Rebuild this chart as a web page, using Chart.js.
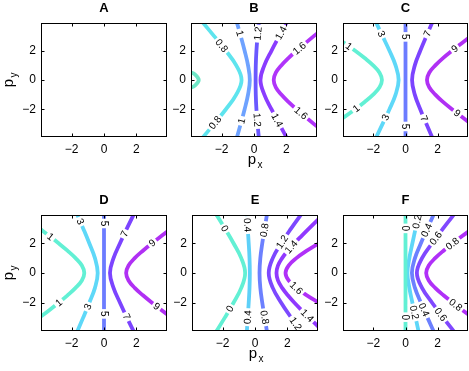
<!DOCTYPE html>
<html>
<head>
<meta charset="utf-8">
<script src="https://cdn.jsdelivr.net/npm/chart.js@4.4.1/dist/chart.umd.min.js"></script>
<style>
body { margin: 0; background: #fff; width: 469px; height: 371px; position: relative; overflow: hidden; }
canvas { position: absolute; }
</style>
</head>
<body>
<canvas id="A"></canvas>
<canvas id="B"></canvas>
<canvas id="C"></canvas>
<canvas id="D"></canvas>
<canvas id="E"></canvas>
<canvas id="F"></canvas>
<script>
const tickVals = [-2, 0, 2];
const axisMin = -3.9;
const axisMax = 3.9;

// panel B
const levelsB = ["0.6", "0.8", "1", "1.2", "1.4", "1.6"];
const linesB = [
    [[-3.95,0.55],[-3.68,0.4],[-3.42,0],[-3.68,-0.4],[-3.95,-0.55]],
    [[-3.37,4.2],[-2.47,3],[-1.74,2],[-1.1,1],[-0.77,0],[-1.1,-1],[-1.74,-2],[-2.47,-3],[-3.37,-4.2]],
    [[-1.13,4.2],[-0.82,3],[-0.58,2],[-0.37,1],[-0.26,0],[-0.37,-1],[-0.58,-2],[-0.82,-3],[-1.13,-4.2]],
    [[0.32,4.2],[0.22,3],[0.15,2],[0.11,1],[0.1,0],[0.11,-1],[0.15,-2],[0.22,-3],[0.32,-4.2]],
    [[2.15,4.2],[1.56,3],[1.08,2],[0.64,1],[0.4,0],[0.64,-1],[1.08,-2],[1.56,-3],[2.15,-4.2]],
    [[4.1,3.35],[3.7,3],[2.63,2],[2.13,1.5],[1.69,1],[1.35,0.5],[1.22,0],[1.35,-0.5],[1.69,-1],[2.13,-1.5],[2.63,-2],[3.7,-3],[4.1,-3.35]]
];
const labelsB = [["0.8",-2.1,2.27],["0.8",-2.42,-2.9],["1",-0.9,3.18],["1",-0.88,-2.77],["1.2",0.19,3.18],["1.2",0.19,-2.73],
    ["1.4",1.7,3.2],["1.4",1.35,-2.8],["1.6",2.9,2.05],["1.6",2.8,-2.4]];

// panel C
const levelsC = ["1", "3", "5", "7", "9"];
const linesC = [
    [[-4.16,2.8],[-3.14,2],[-2.55,1.5],[-2.02,1],[-1.62,0.5],[-1.47,0],[-1.62,-0.5],[-2.02,-1],[-2.55,-1.5],[-3.14,-2],[-4.16,-2.8]],
    [[-1.95,4.2],[-1.43,3],[-1.0,2],[-0.62,1],[-0.43,0],[-0.62,-1],[-1.0,-2],[-1.43,-3],[-1.95,-4.2]],
    [[0,4.2],[0,0],[0,-4.2]],
    [[1.78,4.2],[1.3,3],[0.92,2],[0.58,1],[0.41,0],[0.58,-1],[0.92,-2],[1.3,-3],[1.78,-4.2]],
    [[4.09,3],[3.49,2.5],[2.9,2],[2.34,1.5],[1.86,1],[1.48,0.5],[1.34,0],[1.48,-0.5],[1.86,-1],[2.34,-1.5],[2.9,-2],[3.49,-2.5],[4.09,-3]]
];
const labelsC = [["1",-3.55,2.27],["1",-3.14,-1.86],["3",-1.47,3.18],["3",-1.26,-2.55],["5",0,2.95],["5",0,-3.18],
    ["7",1.34,3.18],["7",1.24,-2.61],["9",3.11,2.09],["9",3.22,-2.27]];

// panel D
const levelsD = ["1", "3", "5", "7", "9"];
const linesD = [
    [[-4.11,3.1],[-3.39,2.5],[-2.81,2],[-2.26,1.5],[-1.76,1],[-1.37,0.5],[-1.22,0],[-1.37,-0.5],[-1.76,-1],[-2.26,-1.5],[-2.81,-2],[-3.39,-2.5],[-4.11,-3.1]],
    [[-1.76,4.2],[-1.29,3],[-0.91,2],[-0.56,1],[-0.39,0],[-0.56,-1],[-0.91,-2],[-1.29,-3],[-1.76,-4.2]],
    [[0,4.2],[0,0],[0,-4.2]],
    [[1.96,4.2],[1.42,3],[0.99,2],[0.59,1],[0.37,0],[0.59,-1],[0.99,-2],[1.42,-3],[1.96,-4.2]],
    [[4.18,3],[3.57,2.5],[2.97,2],[2.41,1.5],[1.9,1],[1.52,0.5],[1.37,0],[1.52,-0.5],[1.9,-1],[2.41,-1.5],[2.97,-2],[3.57,-2.5],[4.18,-3]]
];
const labelsD = [["1",-3.35,2.39],["1",-2.77,-2.03],["3",-1.49,3.45],["3",-1.04,-2.25],["5",0,3.33],["5",0,-2.75],
    ["7",1.3,2.61],["7",1.41,-2.93],["9",3.02,1.98],["9",3.23,-2.3]];

// panel E
const levelsE = ["0", "0.4", "0.8", "1.2", "1.4", "1.6"];
const linesE = [
    [[-2.55,4.2],[-1.87,3],[-1.33,2],[-0.85,1],[-0.61,0],[-0.85,-1],[-1.33,-2],[-1.87,-3],[-2.55,-4.2]],
    [[-0.52,4.2],[-0.45,3],[-0.39,2],[-0.34,1],[-0.32,0],[-0.34,-1],[-0.39,-2],[-0.45,-3],[-0.52,-4.2]],
    [[0.78,4.2],[0.6,3],[0.45,2],[0.33,1],[0.28,0],[0.33,-1],[0.45,-2],[0.6,-3],[0.78,-4.2]],
    [[3.03,4.2],[2.24,3],[1.62,2],[1.1,1],[0.85,0],[1.1,-1],[1.62,-2],[2.24,-3],[3.03,-4.2]],
    [[4.01,3.7],[3.35,3],[2.89,2.5],[2.44,2],[2.03,1.5],[1.68,1],[1.42,0.5],[1.33,0],[1.42,-0.5],[1.68,-1],[2.03,-1.5],[2.44,-2],[2.89,-2.5],[3.35,-3],[4.01,-3.7]],
    [[4.25,2.2],[3.95,2],[3.21,1.5],[2.56,1],[2.08,0.5],[1.89,0],[2.08,-0.5],[2.56,-1],[3.21,-1.5],[3.95,-2],[4.25,-2.2]]
];
const labelsE = [["0",-1.86,3.0],["0",-1.55,-2.41],["0.4",-0.5,3.22],["0.4",-0.48,-2.97],["0.8",0.64,2.88],["0.8",0.64,-2.97],
    ["1.2",1.68,2.09],["1.2",2.51,-3.42],["1.4",2.37,1.64],["1.4",3.14,-2.97],["1.6",2.51,-1.06]];

// panel F
const levelsF = ["0", "0.2", "0.4", "0.6", "0.8"];
const linesF = [
    [[0,4.2],[0,0],[0,-4.2]],
    [[0.87,4.2],[0.63,3],[0.43,2],[0.24,1],[0.12,0],[0.24,-1],[0.43,-2],[0.63,-3],[0.87,-4.2]],
    [[1.87,4.2],[1.37,3],[0.96,2],[0.59,1],[0.4,0],[0.59,-1],[0.96,-2],[1.37,-3],[1.87,-4.2]],
    [[3.22,4.2],[2.35,3],[1.66,2],[1.03,1],[0.71,0],[1.03,-1],[1.66,-2],[2.35,-3],[3.22,-4.2]],
    [[4.2,3],[3.56,2.5],[2.96,2],[2.37,1.5],[1.85,1],[1.45,0.5],[1.29,0],[1.45,-0.5],[1.85,-1],[2.37,-1.5],[2.96,-2],[3.56,-2.5],[4.2,-3]]
];
const labelsF = [["0",0,3.0],["0",0,-2.97],["0.2",0.71,3.45],["0.2",0.6,-2.64],["0.4",1.33,2.88],["0.4",1.13,-2.48],
    ["0.6",2.06,2.2],["0.6",1.96,-2.97],["0.8",3.0,1.87],["0.8",3.1,-2.18]];

const colorsB = ["#6ee6c6", "#5ee4ee", "#6ea2ff", "#6a58ff", "#8a3cff", "#b034fa"];
const colorsC = ["#62f0d4", "#5ed8f8", "#6c7cff", "#7c44ff", "#b030f4"];
const colorsE = ["#62f0d4", "#5ed0f8", "#6c80ff", "#7c48ff", "#9038ff", "#b030f8"];
const colorsF = ["#62f0d4", "#5ed6f8", "#6c80ff", "#8048ff", "#b030f8"];

const font = "'Liberation Sans', Arial, Helvetica, sans-serif";

function fmt(v) {
    return v < 0 ? "\u2212" + Math.abs(v) : String(v);
}

// box with inward ticks, title and axis names
const framePlugin = {
    id: "frame",
    afterDraw(chart) {
        const ctx = chart.ctx;
        const a = chart.chartArea;
        const xs = chart.scales.x, ys = chart.scales.y;
        const o = chart.options.plugins.frame;
        ctx.save();
        ctx.strokeStyle = "#000";
        ctx.lineWidth = 1;
        const L = Math.round(a.left) + 0.5, R = Math.round(a.right) - 0.5;
        const T = Math.round(a.top) + 0.5, B = Math.round(a.bottom) - 0.5;
        ctx.strokeRect(L, T, R - L, B - T);
        ctx.beginPath();
        tickVals.forEach(v => {
            const px = Math.round(xs.getPixelForValue(v)) + 0.5;
            ctx.moveTo(px, B); ctx.lineTo(px, B - 3);
            ctx.moveTo(px, T); ctx.lineTo(px, T + 3);
            const py = Math.round(ys.getPixelForValue(v)) + 0.5;
            ctx.moveTo(L, py); ctx.lineTo(L + 3, py);
            ctx.moveTo(R, py); ctx.lineTo(R - 3, py);
        });
        ctx.stroke();

        ctx.fillStyle = "#000";
        ctx.textAlign = "center";
        ctx.textBaseline = "middle";
        ctx.font = "bold 13px " + font;
        ctx.fillText(o.title, (a.left + a.right) / 2, a.top - 15);

        if (o.xName) {
            const cx = (a.left + a.right) / 2;
            ctx.textBaseline = "alphabetic";
            ctx.font = "15px " + font;
            ctx.fillText("p", cx - 2, a.bottom + 27);
            ctx.font = "10px " + font;
            ctx.fillText("x", cx + 6, a.bottom + 31);
        }
        if (o.yName) {
            const cy = (a.top + a.bottom) / 2;
            ctx.translate(12, cy);
            ctx.rotate(-Math.PI / 2);
            ctx.textBaseline = "alphabetic";
            ctx.font = "15px " + font;
            ctx.fillText("p", -3, 0);
            ctx.font = "10px " + font;
            ctx.fillText("y", 5, 4);
        }
        ctx.restore();
    }
};

// inline contour labels placed on their line
const clabelPlugin = {
    id: "clabel",
    afterDatasetsDraw(chart) {
        const labels = chart.options.plugins.clabel.items || [];
        const ctx = chart.ctx;
        const a = chart.chartArea;
        ctx.save();
        ctx.beginPath();
        ctx.rect(a.left, a.top, a.right - a.left, a.bottom - a.top);
        ctx.clip();
        ctx.font = "10px " + font;
        ctx.textAlign = "center";
        ctx.textBaseline = "middle";
        labels.forEach(([txt, x, y]) => {
            const di = chart.data.datasets.findIndex(d => d.label === txt);
            if (di < 0) return;
            const pts = chart.getDatasetMeta(di).data;
            const px = chart.scales.x.getPixelForValue(x);
            const py = chart.scales.y.getPixelForValue(y);
            let best = null;
            for (let i = 0; i < pts.length - 1; i++) {
                const p = pts[i], q = pts[i + 1];
                const dx = q.x - p.x, dy = q.y - p.y;
                const len2 = dx * dx + dy * dy || 1;
                let t = ((px - p.x) * dx + (py - p.y) * dy) / len2;
                t = Math.max(0, Math.min(1, t));
                const cx = p.x + t * dx, cy = p.y + t * dy;
                const d2 = (cx - px) ** 2 + (cy - py) ** 2;
                if (!best || d2 < best.d2) best = { d2, cx, cy, ang: Math.atan2(dy, dx) };
            }
            let ang = best.ang;
            if (ang > Math.PI / 2) ang -= Math.PI;
            if (ang <= -Math.PI / 2) ang += Math.PI;
            const w = ctx.measureText(txt).width;
            ctx.save();
            ctx.translate(best.cx, best.cy);
            ctx.rotate(ang);
            ctx.fillStyle = "#fff";
            ctx.fillRect(-w / 2 - 2, -5, w + 4, 10);
            ctx.fillStyle = "#000";
            ctx.fillText(txt, 0, 0.5);
            ctx.restore();
        });
        ctx.restore();
    }
};

function axis(isX) {
    return {
        type: "linear",
        min: axisMin,
        max: axisMax,
        afterBuildTicks: s => { s.ticks = tickVals.map(v => ({ value: v })); },
        afterFit: s => { if (isX) s.height = 40; else s.width = 40; },
        grid: { display: false, drawTicks: false },
        border: { display: false },
        ticks: {
            autoSkip: false,
            maxRotation: 0,
            padding: 5,
            color: "#000",
            font: { family: font, size: 12 },
            callback: v => fmt(v)
        }
    };
}

function makePanel(id, title, l, t, r, b, levels, lines, colors, labels, xName, yName) {
    const cv = document.getElementById(id);
    cv.width = r - l + 41;
    cv.height = b - t + 63;
    cv.style.left = (l - 40) + "px";
    cv.style.top = (t - 23) + "px";

    new Chart(cv, {
        type: "scatter",
        data: {
            datasets: lines.map((pts, i) => ({
                label: levels[i],
                data: pts.map(p => ({ x: p[0], y: p[1] })),
                showLine: true,
                borderColor: colors[i],
                borderWidth: 3.8,
                pointRadius: 0,
                tension: 0.4,
                fill: false
            }))
        },
        options: {
            responsive: false,
            animation: false,
            events: [],
            layout: { padding: { top: 23, right: 1, left: 0, bottom: 0 } },
            plugins: {
                legend: { display: false },
                tooltip: { enabled: false },
                frame: { title, xName, yName },
                clabel: { items: labels }
            },
            scales: { x: axis(true), y: axis(false) }
        },
        plugins: [clabelPlugin, framePlugin]
    });
}

makePanel("A", "A", 41, 23, 167, 137, [], [], [], [], false, true);
makePanel("B", "B", 191, 23, 317, 137, levelsB, linesB, colorsB, labelsB, true, false);
makePanel("C", "C", 343, 23, 468, 137, levelsC, linesC, colorsC, labelsC, false, false);
makePanel("D", "D", 41, 215, 167, 331, levelsD, linesD, colorsC, labelsD, false, true);
makePanel("E", "E", 192, 215, 318, 331, levelsE, linesE, colorsE, labelsE, true, false);
makePanel("F", "F", 343, 215, 468, 331, levelsF, linesF, colorsF, labelsF, false, false);
</script>
</body>
</html>
